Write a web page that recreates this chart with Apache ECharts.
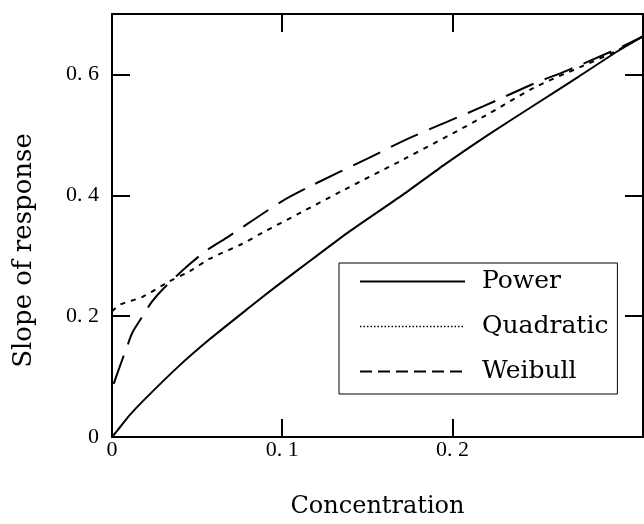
<!DOCTYPE html>
<html>
<head>
<meta charset="utf-8">
<script src="https://cdn.jsdelivr.net/npm/echarts@6/dist/echarts.min.js"></script>
<style>
html,body{margin:0;padding:0;background:#fff;}
#chart{width:644px;height:524px;}
</style>
</head>
<body>
<div id="chart"></div>
<script>
const seriesNames = ['Power', 'Quadratic', 'Weibull'];
const powerData = [[0,0.064],[0,0],[0.003,0.01],[0.01,0.035],[0.018,0.059],[0.038,0.114],[0.0575,0.162],[0.081,0.215],[0.0959,0.248],[0.118,0.295],[0.139,0.339],[0.171,0.401],[0.196,0.452],[0.221,0.50],[0.248,0.549],[0.274,0.596],[0.298,0.64],[0.312,0.663]];
const quadraticData = [[0,0.208],[0.0047,0.219],[0.018,0.232],[0.032,0.255],[0.046,0.275],[0.0575,0.295],[0.076,0.319],[0.089,0.339],[0.11,0.37],[0.135,0.407],[0.171,0.459],[0.217,0.528],[0.248,0.578],[0.275,0.612],[0.295,0.637],[0.312,0.663]];
const weibullData = [[0.001,0.088],[0.005,0.12],[0.0088,0.149],[0.012,0.173],[0.018,0.20],[0.0235,0.224],[0.030,0.245],[0.044,0.282],[0.0557,0.309],[0.0675,0.330],[0.0998,0.39],[0.1165,0.415],[0.151,0.462],[0.175,0.495],[0.218,0.547],[0.248,0.585],[0.267,0.606],[0.295,0.64],[0.312,0.663]];
const xTicks = [0.1, 0.2];
const xLabels = [0, 0.1, 0.2];
const yTicks = [0.2, 0.4, 0.6];
const yLabels = [0, 0.2, 0.4, 0.6];

const fmt = v => (v === 0 ? '0' : v.toFixed(1).replace('.', '. '));
const labelFont = {fontFamily: 'Liberation Serif', fontSize: 22, color: '#000'};
const axisLineStyle = {show: true, onZero: false, lineStyle: {color: '#000', width: 2}};
const tickStyle = {inside: true, length: 18, lineStyle: {color: '#000', width: 2}};
const hiddenIcon = {color: 'rgba(0,0,0,0)', borderColor: 'rgba(0,0,0,0)', borderWidth: 0, opacity: 0};

const chart = echarts.init(document.getElementById('chart'), null, {renderer: 'canvas'});
chart.setOption({
  animation: false,
  backgroundColor: '#fff',
  grid: {left: 112, right: 1, top: 14, bottom: 85, containLabel: false},
  xAxis: [
    {type: 'value', min: 0, max: 0.312, position: 'bottom',
     name: 'Concentration', nameLocation: 'middle', nameGap: 58,
     nameTextStyle: {fontFamily: 'DejaVu Serif', fontSize: 24, color: '#000'},
     axisLine: axisLineStyle,
     axisTick: Object.assign({customValues: xTicks}, tickStyle),
     axisLabel: Object.assign({customValues: xLabels, formatter: fmt, margin: 2}, labelFont),
     splitLine: {show: false}},
    {type: 'value', min: 0, max: 0.312, position: 'top',
     axisLine: axisLineStyle,
     axisTick: Object.assign({customValues: xTicks}, tickStyle),
     axisLabel: {show: false}, splitLine: {show: false}}
  ],
  yAxis: [
    {type: 'value', min: 0, max: 0.7, position: 'left',
     name: 'Slope of response', nameLocation: 'middle', nameGap: 75,
     nameTextStyle: {fontFamily: 'DejaVu Serif', fontSize: 26, color: '#000', padding: [0, 50, 0, 0]},
     axisLine: axisLineStyle,
     axisTick: Object.assign({customValues: yTicks}, tickStyle),
     axisLabel: Object.assign({customValues: yLabels, formatter: fmt, margin: 13}, labelFont),
     splitLine: {show: false}},
    {type: 'value', min: 0, max: 0.7, position: 'right',
     axisLine: axisLineStyle,
     axisTick: Object.assign({customValues: yTicks}, tickStyle),
     axisLabel: {show: false}, splitLine: {show: false}}
  ],
  legend: {
    orient: 'vertical', left: 339, top: 263,
    backgroundColor: '#fff', borderColor: '#000', borderWidth: 1,
    padding: [6, 9, 10, 20],
    itemWidth: 105, itemHeight: 22, itemGap: 20,
    textStyle: {fontFamily: 'DejaVu Serif', fontSize: 25, color: '#000', padding: [0, 0, 0, 12]},
    data: [
      {name: seriesNames[0], itemStyle: hiddenIcon, lineStyle: {type: 'solid', width: 2, color: '#000'}},
      {name: seriesNames[1], itemStyle: hiddenIcon, lineStyle: {type: [1.5, 2], width: 1.5, color: '#000'}},
      {name: seriesNames[2], itemStyle: hiddenIcon, lineStyle: {type: [12, 6], width: 2, color: '#000'}}
    ]
  },
  series: [
    {name: seriesNames[0], type: 'line', data: powerData, symbol: 'none', smooth: 0.2, z: 3,
     lineStyle: {color: '#000', width: 2, type: 'solid'}, itemStyle: {color: '#000'}},
    {name: seriesNames[1], type: 'line', data: quadraticData, symbol: 'none', smooth: 0.3,
     lineStyle: {color: '#000', width: 2, type: [5, 6]}, itemStyle: {color: '#000'}},
    {name: seriesNames[2], type: 'line', data: weibullData, symbol: 'none', smooth: 0.3,
     lineStyle: {color: '#000', width: 2, type: [30, 12]}, itemStyle: {color: '#000'}}
  ]
});
</script>
</body>
</html>
